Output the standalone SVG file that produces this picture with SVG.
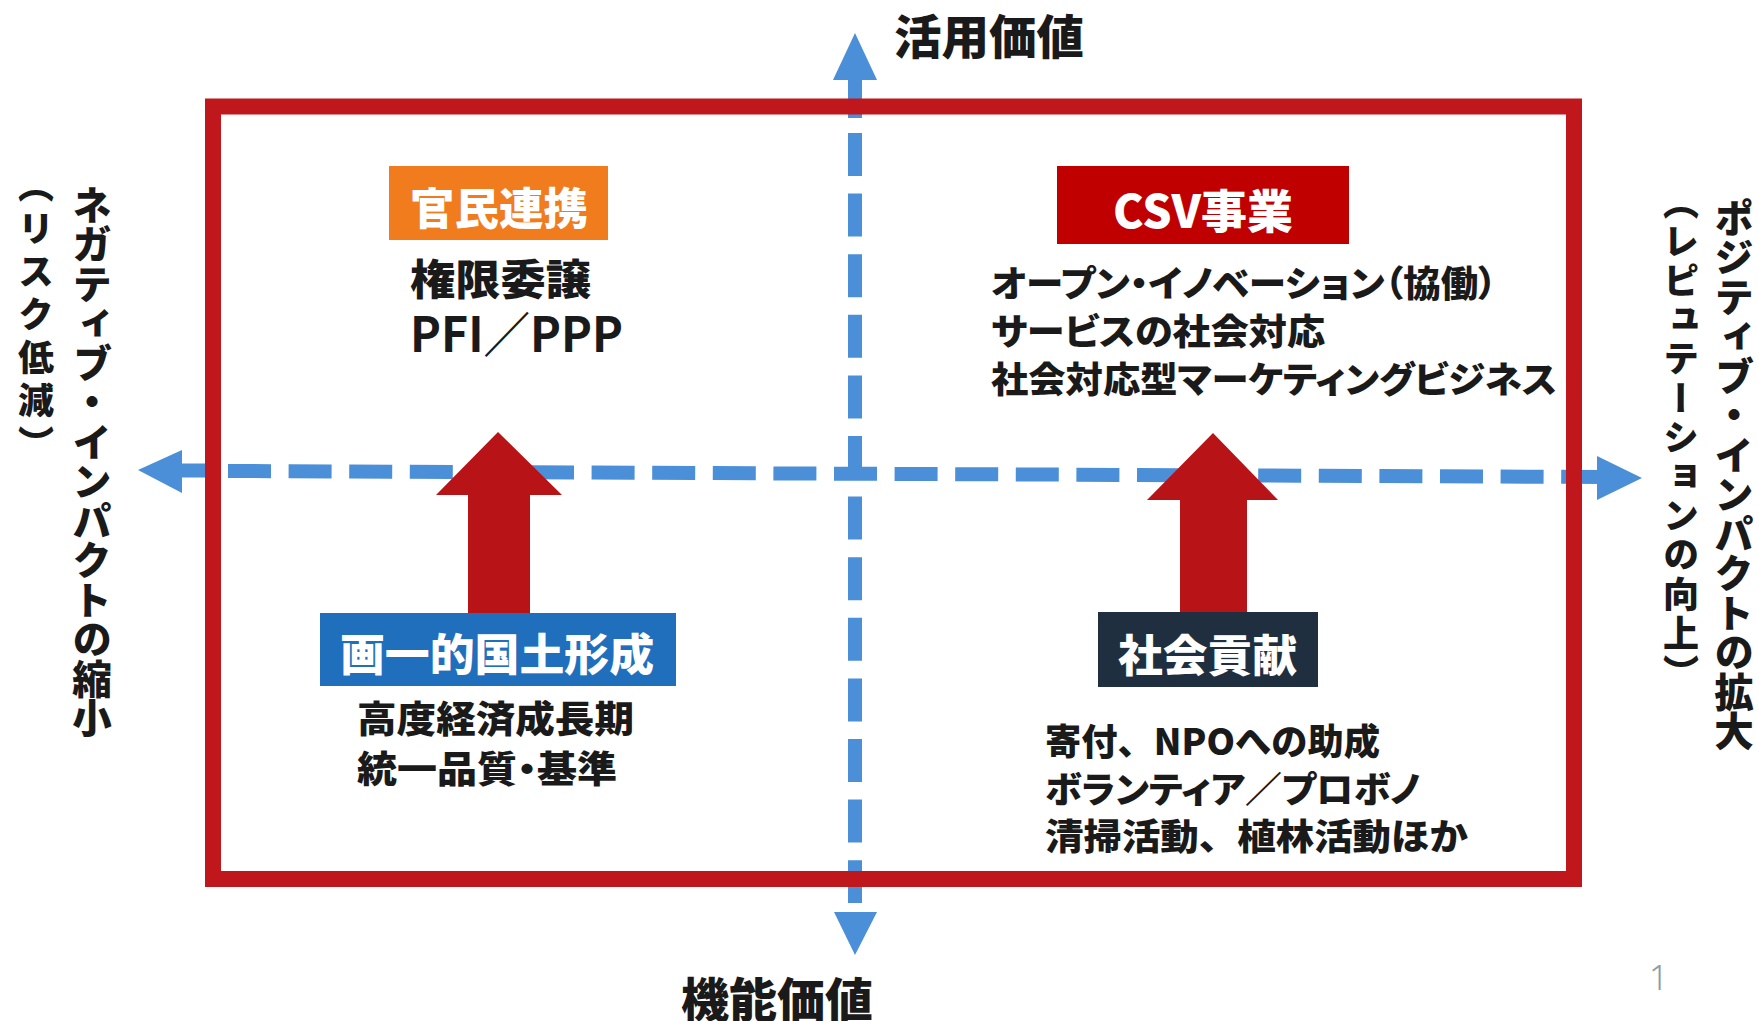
<svg xmlns="http://www.w3.org/2000/svg" width="1759" height="1021" viewBox="0 0 1759 1021">
<style>
.t{font-family:"Noto Sans CJK JP","Noto Sans CJK SC",sans-serif;font-weight:900;fill:#1a1a1a;font-feature-settings:"palt"}
.f{font-feature-settings:normal}
.w{font-family:"Noto Sans CJK JP","Noto Sans CJK SC",sans-serif;font-weight:900;fill:#ffffff;font-feature-settings:"palt"}
.v{font-family:"Noto Sans CJK JP","Noto Sans CJK SC",sans-serif;font-weight:900;fill:#1a1a1a;writing-mode:vertical-rl;text-orientation:upright}
.ax{fill:#4a8fd8}
.dash{stroke:#4a8fd8;stroke-width:14;stroke-dasharray:43 17.6;fill:none}
.red{fill:#b81418}
</style>
<rect width="1759" height="1021" fill="#ffffff"/>
<g id="connectors">
  <g id="axis-vertical">
    <polygon class="ax" points="855,33 877,80 833,80"/>
    <rect class="ax" x="848" y="79" width="14" height="39"/>
    <line class="dash" x1="855" y1="133" x2="855" y2="903"/>
    <polygon class="ax" points="834,912 877,912 855,955"/>
  </g>
  <g id="axis-horizontal">
    <polygon class="ax" points="138,470 182,450 182,493"/>
    <rect class="ax" x="181" y="463.5" width="40" height="14"/>
    <line class="dash" x1="228" y1="471" x2="1604" y2="477"/>
    <polygon class="ax" points="1597,456 1642,478 1597,500"/>
  </g>
</g>
<g id="frame">
  <rect x="213" y="106.5" width="1361" height="772.5" fill="none" stroke="#c0171c" stroke-width="16"/>
</g>
<g id="arrows">
  <polygon class="red" points="498,432 562,495 530,495 530,615 468,615 468,495 436,495"/>
  <polygon class="red" points="1213,433 1278,500 1247,500 1247,614 1180,614 1180,500 1147,500"/>
</g>
<g id="label-top">
  <text class="t" x="894" y="54" font-size="47" textLength="190" lengthAdjust="spacingAndGlyphs">活用価値</text>
</g>
<g id="label-bottom">
  <text class="t" x="681" y="1017" font-size="47" textLength="192" lengthAdjust="spacingAndGlyphs">機能価値</text>
</g>
<g id="label-left">
  <text class="v" x="92" y="185" font-size="39.5">ネガティブ・インパクトの縮小</text>
  <text class="v" x="36" y="167" font-size="36" letter-spacing="7">（リスク低減）</text>
</g>
<g id="label-right">
  <text class="v" x="1734" y="198" font-size="39.5">ポジティブ・インパクトの拡大</text>
  <text class="v" x="1681" y="184" font-size="36" letter-spacing="3.2">（レピュテーションの向上）</text>
</g>
<g id="node-kanmin">
  <rect x="389" y="166" width="219" height="74" fill="#f07c1e"/>
  <text class="w" x="410" y="225" font-size="44" textLength="178" lengthAdjust="spacingAndGlyphs">官民連携</text>
  <text class="t" x="410" y="295" font-size="42" textLength="181" lengthAdjust="spacingAndGlyphs">権限委譲</text>
  <text class="t" x="410" y="352" font-size="48" style="font-weight:700" textLength="213" lengthAdjust="spacingAndGlyphs">PFI／PPP</text>
</g>
<g id="node-csv">
  <rect x="1057" y="166" width="292" height="78" fill="#c00000"/>
  <text class="w" x="1113" y="228" font-size="46" textLength="180" lengthAdjust="spacingAndGlyphs">CSV事業</text>
  <text class="t" x="991" y="297" font-size="36" textLength="506" lengthAdjust="spacingAndGlyphs">オープン・イノベーション（協働）</text>
  <text class="t" x="991" y="345" font-size="36" textLength="334" lengthAdjust="spacingAndGlyphs">サービスの社会対応</text>
  <text class="t" x="991" y="393" font-size="36" textLength="566" lengthAdjust="spacingAndGlyphs">社会対応型マーケティングビジネス</text>
</g>
<g id="node-kokudo">
  <rect x="320" y="613" width="356" height="73" fill="#1f6fbd"/>
  <text class="w" x="340" y="671" font-size="44" textLength="314" lengthAdjust="spacingAndGlyphs">画一的国土形成</text>
  <text class="t" x="357" y="733" font-size="37" textLength="277" lengthAdjust="spacingAndGlyphs">高度経済成長期</text>
  <text class="t" x="357" y="783" font-size="37" textLength="260" lengthAdjust="spacingAndGlyphs">統一品質・基準</text>
</g>
<g id="node-shakai">
  <rect x="1098" y="612" width="220" height="75" fill="#1f2f3f"/>
  <text class="w" x="1118" y="672" font-size="44" textLength="179" lengthAdjust="spacingAndGlyphs">社会貢献</text>
  <text class="t f" x="1045" y="755" font-size="36" textLength="335" lengthAdjust="spacingAndGlyphs">寄付、NPOへの助成</text>
  <text class="t" x="1045" y="803" font-size="36" textLength="375" lengthAdjust="spacingAndGlyphs">ボランティア／プロボノ</text>
  <text class="t f" x="1045" y="850" font-size="36" textLength="423" lengthAdjust="spacingAndGlyphs">清掃活動、植林活動ほか</text>
</g>
<g id="page-number">
  <text x="1649" y="990" font-family="'Noto Sans','Liberation Sans',sans-serif" font-size="34" font-weight="300" fill="#8c9aa6">1</text>
</g>
</svg>
